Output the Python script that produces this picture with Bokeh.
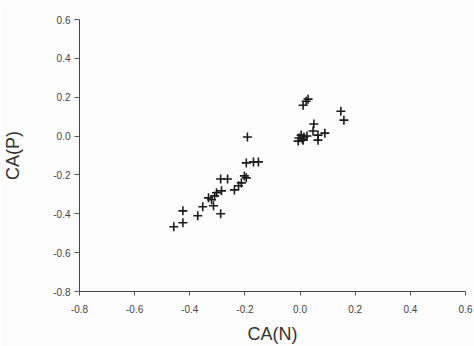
from bokeh.plotting import figure
from bokeh.models import FixedTicker, PrintfTickFormatter, Range1d, ColumnDataSource
from bokeh.embed import file_html
from bokeh.resources import INLINE

# Correspondence-analysis scores: CA(N) against CA(P)
ca_n = [-0.458, -0.425, -0.425, -0.371, -0.353, -0.332, -0.321, -0.314, -0.310, -0.303,
        -0.285, -0.288, -0.288, -0.263, -0.238, -0.223, -0.213, -0.202, -0.195, -0.191,
        -0.195, -0.169, -0.151, 0.011, 0.022, 0.029, 0.148, 0.159, 0.050, 0.047,
        0.065, 0.090, -0.004, 0.011, 0.014, -0.007, 0.065, 0.025, 0.004, 0.008]
ca_p = [-0.467, -0.446, -0.385, -0.410, -0.364, -0.318, -0.328, -0.359, -0.308, -0.292,
        -0.282, -0.400, -0.221, -0.221, -0.277, -0.256, -0.241, -0.205, -0.215, -0.005,
        -0.138, -0.133, -0.133, 0.159, 0.179, 0.190, 0.128, 0.082, 0.062, 0.026,
        0.005, 0.015, -0.010, -0.021, -0.005, -0.026, -0.021, 0.000, 0.005, -0.015]

ticks = [-0.8, -0.6, -0.4, -0.2, 0.0, 0.2, 0.4, 0.6]

p = figure(width=474, height=346, output_backend="svg", toolbar_location=None,
           x_range=Range1d(-0.8, 0.6), y_range=Range1d(-0.8, 0.6))
p.min_border_left = 79
p.min_border_right = 9
p.min_border_top = 19
p.min_border_bottom = 54
p.background_fill_color = "#fdfdfd"
p.border_fill_color = "#fdfdfd"
p.outline_line_color = None
p.grid.visible = False

src = ColumnDataSource(dict(x=ca_n, y=ca_p))
p.scatter("x", "y", source=src, marker="cross", size=9, line_width=1.6, line_color="#1a1a1a")

for ax in (p.xaxis[0], p.yaxis[0]):
    ax.ticker = FixedTicker(ticks=ticks)
    ax.formatter = PrintfTickFormatter(format="%.1f")
    ax.axis_line_color = "#444444"
    ax.major_tick_line_color = "#555555"
    ax.minor_tick_line_color = None
    ax.major_tick_in = 0
    ax.major_label_text_font = "Liberation Sans"
    ax.major_label_text_font_size = "10px"
    ax.major_label_text_color = "#444444"
    ax.axis_label_text_font = "Liberation Sans"
    ax.axis_label_text_font_size = "18px"
    ax.axis_label_text_font_style = "normal"
    ax.axis_label_text_color = "#333333"

p.xaxis.axis_label = "CA(N)"
p.yaxis.axis_label = "CA(P)"
p.xaxis.major_tick_out = 4
p.xaxis.major_label_standoff = 9
p.xaxis.axis_label_standoff = 8
p.yaxis.major_tick_out = 5
p.yaxis.major_label_standoff = 4
p.yaxis.axis_label_standoff = 27

open("out.html", "w").write(file_html(p, INLINE))
